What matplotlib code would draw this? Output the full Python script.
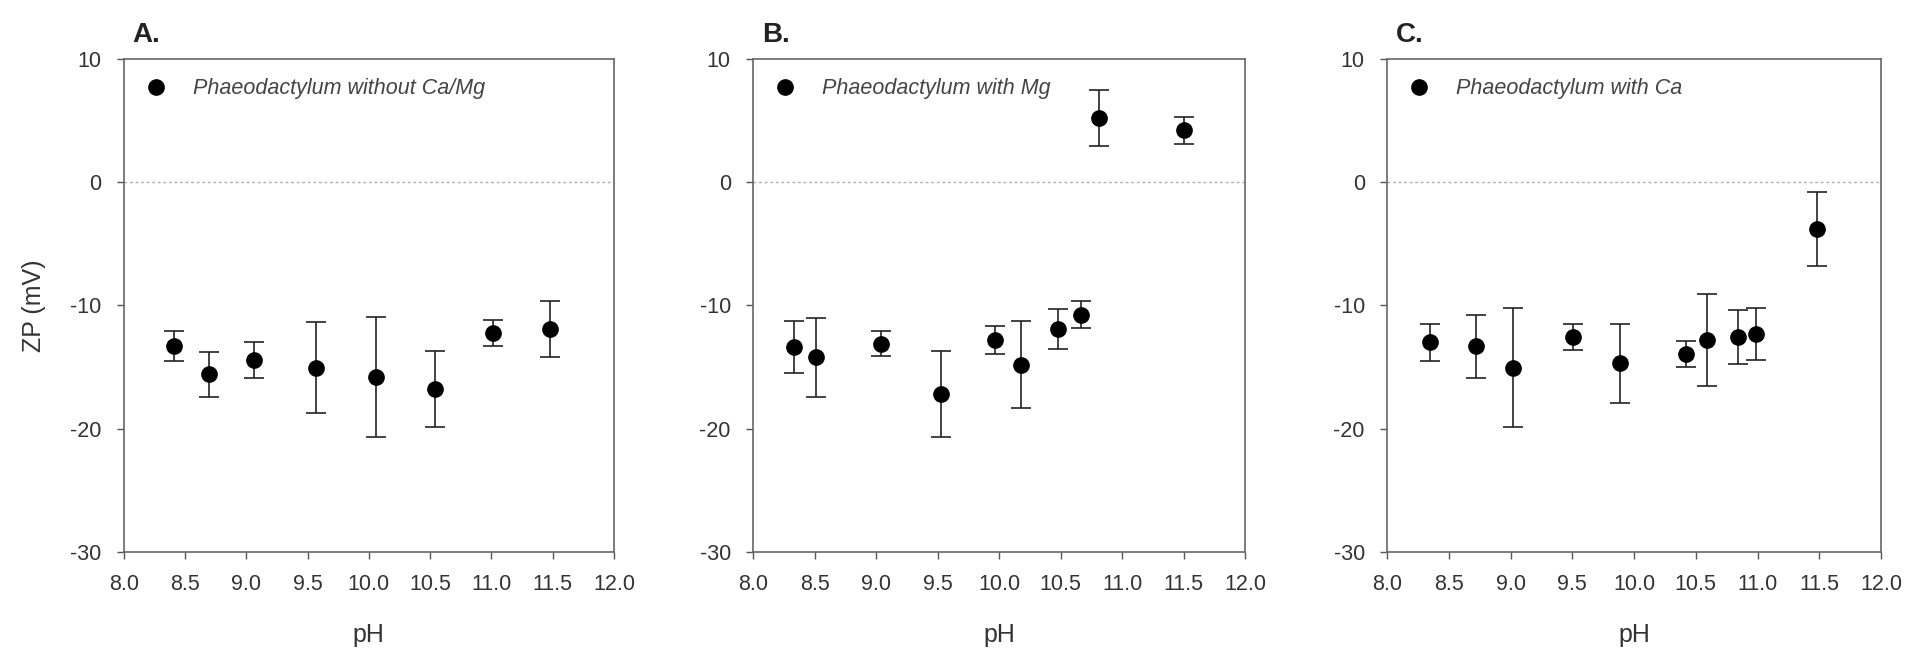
import matplotlib.pyplot as plt

# panel A: without Ca/Mg
ph_a = [8.41, 8.70, 9.06, 9.57, 10.06, 10.54, 11.01, 11.48]
zp_a = [-13.3, -15.6, -14.4, -15.05, -15.8, -16.8, -12.25, -11.9]
err_a = [1.2, 1.8, 1.45, 3.7, 4.9, 3.1, 1.05, 2.25]

# panel B: with Mg
ph_b = [8.33, 8.51, 9.04, 9.53, 9.97, 10.18, 10.48, 10.67, 10.81, 11.50]
zp_b = [-13.4, -14.2, -13.1, -17.2, -12.8, -14.8, -11.9, -10.75, 5.2, 4.2]
err_b = [2.1, 3.2, 1.0, 3.5, 1.15, 3.5, 1.65, 1.1, 2.25, 1.1]

# panel C: with Ca
ph_c = [8.35, 8.72, 9.02, 9.51, 9.89, 10.42, 10.59, 10.84, 10.99, 11.48]
zp_c = [-13.0, -13.3, -15.05, -12.55, -14.7, -13.97, -12.8, -12.55, -12.3, -3.8]
err_c = [1.5, 2.55, 4.85, 1.05, 3.2, 1.05, 3.75, 2.2, 2.1, 3.0]

letters = ['A.', 'B.', 'C.']
labels = ['Phaeodactylum without Ca/Mg', 'Phaeodactylum with Mg', 'Phaeodactylum with Ca']
xticks = [8.0, 8.5, 9.0, 9.5, 10.0, 10.5, 11.0, 11.5, 12.0]
yticks = [-30, -20, -10, 0, 10]

plt.rcParams['font.family'] = ['Liberation Sans', 'DejaVu Sans']
plt.rcParams['axes.unicode_minus'] = False

dpi = 100
fig = plt.figure(dpi=dpi, figsize=(1906 / dpi, 653 / dpi))
lefts = [0.0649, 0.3951, 0.7277]
widths = [0.2572, 0.2581, 0.2592]

series = [(ph_a, zp_a, err_a), (ph_b, zp_b, err_b), (ph_c, zp_c, err_c)]
txt = '#333333'
for i, (xs, ys, es) in enumerate(series):
    ax = fig.add_axes([lefts[i], 0.1547, widths[i], 0.755])
    ax.axhline(0, color='#b0b0b0', lw=1, ls=(0, (2, 2)), zorder=1)
    ax.errorbar(xs, ys, yerr=es, fmt='none', ecolor='#222222',
                elinewidth=1.2, capsize=7.5, capthick=1.2, zorder=2)
    ax.plot(xs, ys, 'o', color='black', ms=11, label=labels[i], zorder=3)
    ax.set_xlim(8.0, 12.0)
    ax.set_ylim(-30, 10)
    ax.set_xticks(xticks)
    ax.set_xticklabels(['%.1f' % t for t in xticks])
    ax.set_yticks(yticks)
    ax.tick_params(direction='out', length=5, width=1, colors='#555555',
                   labelcolor=txt, labelsize=15.5, pad=11)
    for sp in ax.spines.values():
        sp.set_color('#666666')
        sp.set_linewidth(1.2)
    ax.set_xlabel('pH', fontsize=18, color=txt, labelpad=20)
    if i == 0:
        ax.set_ylabel('ZP (mV)', fontsize=18, color=txt, labelpad=17)
    ax.text(0.018, 1.034, letters[i], transform=ax.transAxes, fontsize=20,
            fontweight='bold', color='#222222', va='baseline', ha='left')
    leg = ax.legend(loc='upper left', bbox_to_anchor=(0.0, 1.0), frameon=False,
                    handlelength=1.2, handletextpad=1.1, borderaxespad=0.5,
                    prop={'style': 'italic', 'size': 15.5})
    for t in leg.get_texts():
        t.set_color('#444444')

fig.savefig('out.png')
